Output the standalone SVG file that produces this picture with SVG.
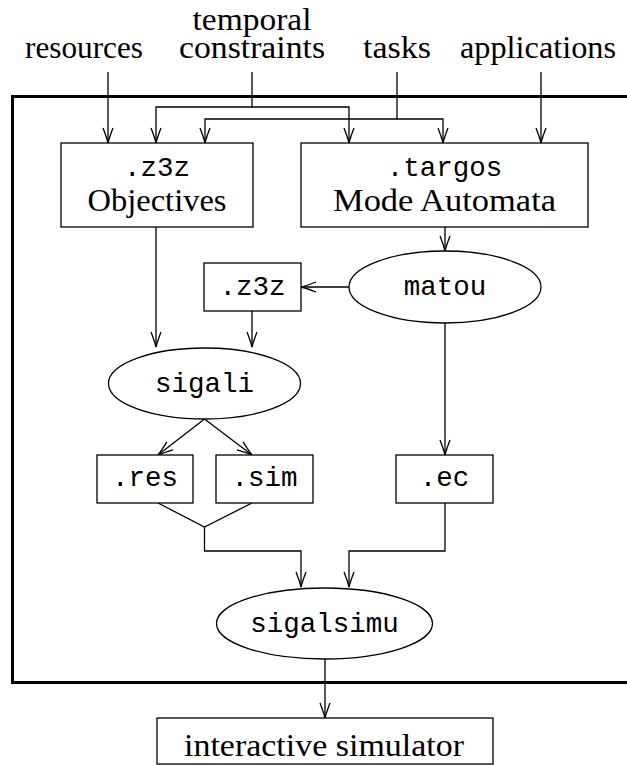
<svg xmlns="http://www.w3.org/2000/svg" width="627" height="765" viewBox="0 0 627 765">
<defs>
<marker id="arr" markerUnits="userSpaceOnUse" markerWidth="20" markerHeight="14" viewBox="-16 -7 18 14" refX="0" refY="0" orient="auto">
<path d="M-15,-5 Q-5,-1.2 0,0 Q-5,1.2 -15,5" fill="none" stroke="#000" stroke-width="1.3"/>
</marker>
<style>
.rm{font-family:"Liberation Serif","DejaVu Serif","Times New Roman",serif;font-size:32px;text-anchor:middle;fill:#000}
.tt{font-family:"Liberation Mono","DejaVu Sans Mono",monospace;font-size:27.5px;text-anchor:middle;fill:#000}
.n{fill:#fff;stroke:#000;stroke-width:1.3}
.c{fill:none;stroke:#000;stroke-width:1.3}
.a{marker-end:url(#arr)}
</style>
</defs>
<rect width="627" height="765" fill="#fff"/>
<path d="M640,96.5 H12.5 V682.5 H640" fill="none" stroke="#000" stroke-width="3"/>
<g id="labels">
<text class="rm" x="252" y="30" textLength="119" lengthAdjust="spacingAndGlyphs">temporal</text>
<text class="rm" x="84" y="58" textLength="118" lengthAdjust="spacingAndGlyphs">resources</text>
<text class="rm" x="252" y="58" textLength="146" lengthAdjust="spacingAndGlyphs">constraints</text>
<text class="rm" x="397" y="58" textLength="68" lengthAdjust="spacingAndGlyphs">tasks</text>
<text class="rm" x="538" y="58" textLength="156" lengthAdjust="spacingAndGlyphs">applications</text>
</g>
<g id="connectors">
<path class="c a" d="M108,72 V143"/>
<path class="c a" d="M252,72 V107 H156 V143"/>
<path class="c a" d="M252,107 H349 V143"/>
<path class="c a" d="M397,72 V119 H205 V143"/>
<path class="c a" d="M397,119 H443 V143"/>
<path class="c a" d="M541,72 V143"/>
<path class="c a" d="M156,227 V347"/>
<path class="c a" d="M445,227 V251"/>
<path class="c a" d="M349,287 H301"/>
<path class="c a" d="M252,311 V347"/>
<path class="c a" d="M204.5,419 L158,455"/>
<path class="c a" d="M204.5,419 L252,455"/>
<path class="c a" d="M445,323 V455"/>
<path class="c" d="M158,503 L204.5,527 L252,503"/>
<path class="c a" d="M204.5,527 V551 H301 V587"/>
<path class="c a" d="M445,503 V551 H349 V587"/>
<path class="c a" d="M325,659 V718"/>
</g>
<g id="objectives">
<rect class="n" x="61" y="143" width="192" height="84"/>
<text class="tt" x="157" y="176">.z3z</text>
<text class="rm" x="157" y="211" textLength="139" lengthAdjust="spacingAndGlyphs">Objectives</text>
</g>
<g id="targos">
<rect class="n" x="301" y="143" width="287" height="84"/>
<text class="tt" x="444.5" y="176">.targos</text>
<text class="rm" x="444.5" y="211" textLength="223" lengthAdjust="spacingAndGlyphs">Mode Automata</text>
</g>
<g id="matou">
<ellipse class="n" cx="445" cy="287" rx="96" ry="36"/>
<text class="tt" x="445" y="295">matou</text>
</g>
<g id="z3z">
<rect class="n" x="204" y="263" width="97" height="48"/>
<text class="tt" x="252.5" y="295">.z3z</text>
</g>
<g id="sigali">
<ellipse class="n" cx="204.5" cy="383.5" rx="96" ry="35.5"/>
<text class="tt" x="204.5" y="392">sigali</text>
</g>
<g id="res">
<rect class="n" x="97" y="455" width="96" height="48"/>
<text class="tt" x="145" y="486">.res</text>
</g>
<g id="sim">
<rect class="n" x="216" y="455" width="97" height="48"/>
<text class="tt" x="264.5" y="486">.sim</text>
</g>
<g id="ec">
<rect class="n" x="396" y="455" width="97" height="48"/>
<text class="tt" x="444.5" y="486">.ec</text>
</g>
<g id="sigalsimu">
<ellipse class="n" cx="324.5" cy="623.5" rx="108" ry="35.5"/>
<text class="tt" x="324.5" y="632">sigalsimu</text>
</g>
<g id="simulator">
<rect class="n" x="157" y="718" width="336" height="46"/>
<text class="rm" x="324" y="756" textLength="280" lengthAdjust="spacingAndGlyphs">interactive simulator</text>
</g>
</svg>
